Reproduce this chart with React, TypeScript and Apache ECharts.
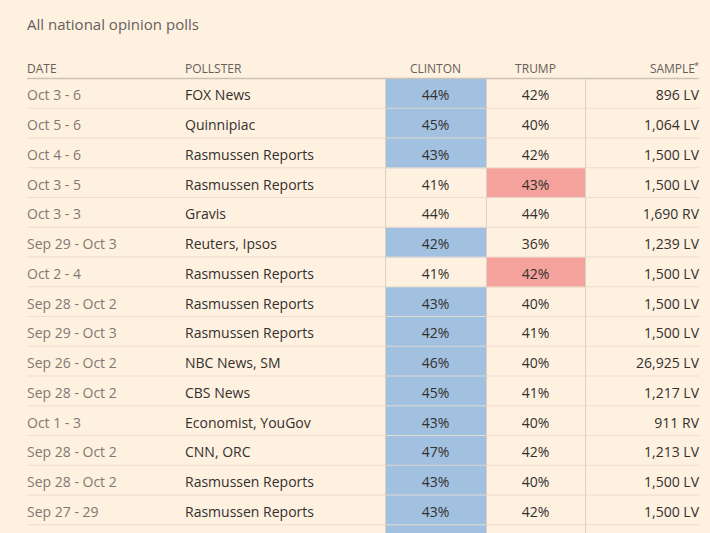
import React, { useEffect, useRef } from "react";
import * as echarts from "echarts";

const titleText = "All national opinion polls";
const headers = ["DATE", "POLLSTER", "CLINTON", "TRUMP", "SAMPLE"];

const dates = [
  "Oct 3 - 6", "Oct 5 - 6", "Oct 4 - 6", "Oct 3 - 5", "Oct 3 - 3",
  "Sep 29 - Oct 3", "Oct 2 - 4", "Sep 28 - Oct 2", "Sep 29 - Oct 3", "Sep 26 - Oct 2",
  "Sep 28 - Oct 2", "Oct 1 - 3", "Sep 28 - Oct 2", "Sep 28 - Oct 2", "Sep 27 - 29", "",
];
const pollsters = [
  "FOX News", "Quinnipiac", "Rasmussen Reports", "Rasmussen Reports", "Gravis",
  "Reuters, Ipsos", "Rasmussen Reports", "Rasmussen Reports", "Rasmussen Reports", "NBC News, SM",
  "CBS News", "Economist, YouGov", "CNN, ORC", "Rasmussen Reports", "Rasmussen Reports", "",
];
const clinton = [44, 45, 43, 41, 44, 42, 41, 43, 42, 46, 45, 43, 47, 43, 43, null];
const trump = [42, 40, 42, 43, 44, 36, 42, 40, 41, 40, 41, 40, 42, 40, 42, null];
const sampleSize = [
  "896", "1,064", "1,500", "1,500", "1,690", "1,239", "1,500", "1,500", "1,500", "26,925",
  "1,217", "911", "1,213", "1,500", "1,500", "",
];
const sampleType = [
  "LV", "LV", "LV", "LV", "RV", "LV", "LV", "LV", "LV", "LV", "LV", "RV", "LV", "LV", "LV", "",
];
// highlighted leader per row ("" = tie)
const leader = ["C", "C", "C", "T", "", "C", "T", "C", "C", "C", "C", "C", "C", "C", "C", "C"];

const rowIds = dates.map((_, i) => String(i));

const FONT = "'Open Sans', sans-serif";
const BG = "#fff1e0";
const BLUE = "#a2c0e0";
const RED = "#f4a29b";
const DARK = "#33302e";
const GREY = "#807973";
const HEAD = "#66605c";
const ROWLINE = "#e9dccd";
const VLINE = "#ddd1c4";

const X_DATE = 27;
const X_POLL = 185;
const X_C0 = 385;
const X_C1 = 486;
const X_T1 = 585;
const X_RIGHT = 699;
const TOP = 79;
const ROW_H = 29.75;

export default function App() {
  const ref = useRef<HTMLDivElement>(null);
  useEffect(() => {
    const chart = echarts.init(ref.current!, undefined, { renderer: "svg" });
    const renderItem = (params: any, api: any) => {
      const i = api.value(0);
      const yc = api.coord([0, i])[1];
      const h = api.size([0, 1])[1];
      const top = yc - h / 2;
      const px = (v: number) => api.coord([v, i])[0];
      const children: any[] = [];
      if (leader[i] === "C") {
        children.push({ type: "rect", shape: { x: px(X_C0), y: top, width: px(X_C1) - px(X_C0), height: h }, style: { fill: BLUE } });
      } else if (leader[i] === "T") {
        children.push({ type: "rect", shape: { x: px(X_C1), y: top, width: px(X_T1) - px(X_C1), height: h }, style: { fill: RED } });
      }
      children.push({ type: "line", shape: { x1: px(X_DATE), y1: top + h - 0.5, x2: px(X_RIGHT), y2: top + h - 0.5 }, style: { stroke: ROWLINE, lineWidth: 1, opacity: 0.9 } });
      [X_C0, X_C1, X_T1].forEach((xv) => {
        children.push({ type: "line", shape: { x1: px(xv) + 0.5, y1: top, x2: px(xv) + 0.5, y2: top + h }, style: { stroke: VLINE, lineWidth: 1 } });
      });
      const ty = yc + 1;
      children.push({ type: "text", style: { text: dates[i], x: px(X_DATE), y: ty, align: "left", verticalAlign: "middle", fontSize: 14, fontFamily: FONT, fill: GREY } });
      children.push({ type: "text", style: { text: pollsters[i], x: px(X_POLL), y: ty, align: "left", verticalAlign: "middle", fontSize: 14, fontFamily: FONT, fill: DARK } });
      if (clinton[i] != null) {
        children.push({ type: "text", style: { text: clinton[i] + "%", x: (px(X_C0) + px(X_C1)) / 2, y: ty, align: "center", verticalAlign: "middle", fontSize: 14, fontFamily: FONT, fill: DARK } });
      }
      if (trump[i] != null) {
        children.push({ type: "text", style: { text: trump[i] + "%", x: (px(X_C1) + px(X_T1)) / 2, y: ty, align: "center", verticalAlign: "middle", fontSize: 14, fontFamily: FONT, fill: DARK } });
      }
      if (sampleSize[i]) {
        children.push({
          type: "text",
          style: {
            text: "{n|" + sampleSize[i] + "} {u|" + sampleType[i] + "}",
            x: px(X_RIGHT), y: ty, align: "right", verticalAlign: "middle",
            fontSize: 14, fontFamily: FONT, fill: DARK,
            rich: {
              n: { fontSize: 14, fontFamily: FONT, color: DARK },
              u: { fontSize: 14, fontFamily: FONT, color: GREY },
            },
          },
        });
      }
      return { type: "group", children };
    };
    chart.setOption({
      animation: false,
      backgroundColor: BG,
      title: {
        text: titleText, left: 22, top: 11,
        textStyle: { fontFamily: FONT, fontSize: 15, fontWeight: "normal", color: HEAD },
      },
      grid: { left: 0, top: TOP, width: 710, height: ROW_H * rowIds.length, outerBoundsMode: "none", containLabel: false },
      xAxis: { type: "value", min: 0, max: 710, show: false },
      yAxis: { type: "category", data: rowIds, inverse: true, show: false },
      series: [
        {
          type: "custom",
          renderItem,
          data: rowIds.map((_, i) => [i]),
          encode: { y: 0 },
          clip: false,
        },
      ],
      graphic: [
        { type: "line", shape: { x1: X_DATE, y1: TOP - 0.5, x2: X_RIGHT, y2: TOP - 0.5 }, style: { stroke: "#cdc1b5", lineWidth: 1.5 } },
        { type: "text", x: X_DATE, y: 68, style: { text: headers[0], fontSize: 12, fontFamily: FONT, fill: HEAD, align: "left", verticalAlign: "middle" } },
        { type: "text", x: X_POLL, y: 68, style: { text: headers[1], fontSize: 12, fontFamily: FONT, fill: HEAD, align: "left", verticalAlign: "middle" } },
        { type: "text", x: (X_C0 + X_C1) / 2, y: 68, style: { text: headers[2], fontSize: 12, fontFamily: FONT, fill: HEAD, align: "center", verticalAlign: "middle" } },
        { type: "text", x: (X_C1 + X_T1) / 2, y: 68, style: { text: headers[3], fontSize: 12, fontFamily: FONT, fill: HEAD, align: "center", verticalAlign: "middle" } },
        { type: "text", x: X_RIGHT - 4, y: 68, style: { text: headers[4], fontSize: 12, fontFamily: FONT, fill: HEAD, align: "right", verticalAlign: "middle" } },
        { type: "text", x: X_RIGHT, y: 65, style: { text: "*", fontSize: 9, fontFamily: FONT, fill: HEAD, align: "right", verticalAlign: "middle" } },
      ],
    });
    return () => chart.dispose();
  }, []);
  return (
    <div
      ref={ref}
      style={{ position: "fixed", left: 0, top: 0, width: 710, height: 533 }}
    />
  );
}
